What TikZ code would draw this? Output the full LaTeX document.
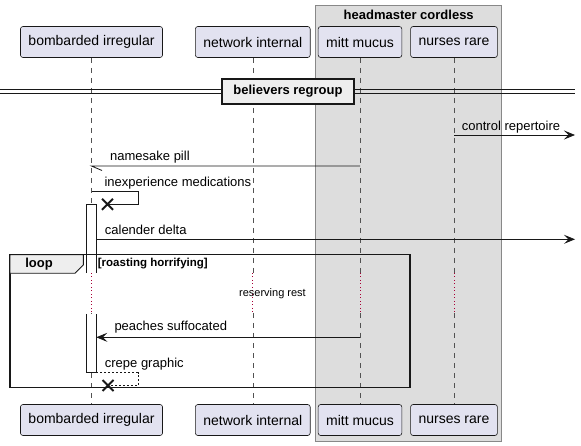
\documentclass[tikz,border=0pt]{standalone}
\usepackage{fontspec}
\setmainfont{Liberation Sans}
\usepackage{xcolor}
\usetikzlibrary{arrows.meta,shapes.misc}
\definecolor{partfill}{HTML}{E2E2F0}
\definecolor{groupfill}{HTML}{DDDDDD}
\definecolor{groupline}{HTML}{888888}
\definecolor{tabfill}{HTML}{EEEEEE}
\definecolor{ink}{HTML}{181818}
\definecolor{delayred}{HTML}{A80036}

\begin{document}
\begin{tikzpicture}[x=1pt,y=-1pt,every node/.style={font=\fontsize{13}{15}\selectfont},
    part/.style={draw=ink,line width=0.6pt,fill=partfill,rounded corners=2.5pt,inner xsep=8pt,minimum height=31pt,font=\fontsize{14}{16}\selectfont},
    lbl/.style={anchor=west,inner sep=0pt},
    bold/.style={font=\fontsize{13}{15}\selectfont\bfseries},
    lifeline/.style={draw=ink!75,line width=0.6pt,dash pattern=on 5pt off 5pt},
    delayline/.style={draw=delayred,line width=0.8pt,dash pattern=on 1pt off 2.5pt},
    msg/.style={draw=ink,line width=0.8pt},
    call/.style={msg,-{Stealth[length=11pt,width=9pt,inset=4.5pt]}},
    bar/.style={draw=ink,line width=0.8pt,fill=white},
    gone/.style={cross out,draw=ink,line width=2pt,minimum size=9pt,inner sep=0pt}]
  \useasboundingbox (0,0) rectangle (581,446);
  % box group
  \draw[groupline,fill=groupfill,line width=0.8pt] (315.7,5.7) rectangle (501.7,441.7);
  \node[bold] (grp) at (408.7,15) {headmaster cordless};
  % participants
  \node[part] (bi) at (91.5,42) {bombarded irregular};
  \node[part] (ni) at (252.8,42) {network internal};
  \node[part] (mm) at (360,42) {mitt mucus};
  \node[part] (nr) at (454,42) {nurses rare};
  \node[part] (bi2) at (91.5,420) {bombarded irregular};
  \node[part] (ni2) at (252.8,420) {network internal};
  \node[part] (mm2) at (360,420) {mitt mucus};
  \node[part] (nr2) at (454,420) {nurses rare};
  \coordinate (rim) at (575,0);
  % lifelines, broken by the delay
  \foreach \p in {bi,ni,mm,nr}{
    \draw[lifeline] (\p.south) -- (\p.south |- 0,273);
    \draw[delayline] (\p.south |- 0,273) -- (\p.south |- 0,313);
    \draw[lifeline] (\p.south |- 0,313) -- (\p2.north);
  }
  % divider
  \draw[ink,line width=0.9pt] (0,89.8) -- (rim |- 0,89.8) (0,93.4) -- (rim |- 0,93.4);
  \node[bold,draw=ink,line width=1.6pt,fill=tabfill,minimum width=132pt,minimum height=25.5pt] (div) at (288,91.5) {believers regroup};
  % messages
  \draw[call] (nr.south |- 0,135) -- (rim |- 0,135);
  \node[lbl] (m1) at (461.7,126.7) {control repertoire};
  \draw[msg] (mm.south |- 0,166) -- (bi.south |- 0,166) -- ++(10.5,4.5);
  \node[lbl] (m2) at (110,156.7) {namesake pill};
  \node[gone] (x1) at (107.5,204.3) {};
  \draw[msg] (bi.south |- 0,191) -- (138,191) -- (138,204.3) -- (x1.center);
  \node[lbl] (m3) at (104.3,182.7) {inexperience medications};
  \draw[bar] (86.7,273) -- (86.7,204.3) -- (96.3,204.3) -- (96.3,273);
  \draw[bar] (86.7,314) -- (86.7,372.7) -- (96.3,372.7) -- (96.3,314);
  \draw[call] (96.3,239.3) -- (rim |- 0,239.3);
  \node[lbl] (m4) at (104.7,230) {calender delta};
  % loop
  \draw[ink,line width=1.6pt] (10,254.7) rectangle (410,387.5);
  \draw[ink,line width=0.9pt,fill=tabfill] (10,254.7) -- (83.3,254.7) -- (83.3,265) -- (75,273.3) -- (10,273.3) -- cycle;
  \node[bold] (lp) at (39,264.5) {loop};
  \node[lbl,font=\fontsize{11.5}{13}\selectfont\bfseries] (cond) at (97.7,264) {[roasting horrifying]};
  \node[font=\fontsize{11}{13}\selectfont] (dl) at (272.5,294) {reserving rest};
  \draw[call,shorten >=4.8pt] (mm.south |- 0,337.3) -- (bi.south |- 0,337.3);
  \node[lbl] (m5) at (114.3,327.3) {peaches suffocated};
  \node[gone] (x2) at (108,385.5) {};
  \draw[msg,dash pattern=on 2pt off 2pt] (96.3,372.7) -- (138,372.7) -- (138,385.5) -- (x2.center);
  \node[lbl] (m6) at (104.7,363.7) {crepe graphic};
\end{tikzpicture}
\end{document}
